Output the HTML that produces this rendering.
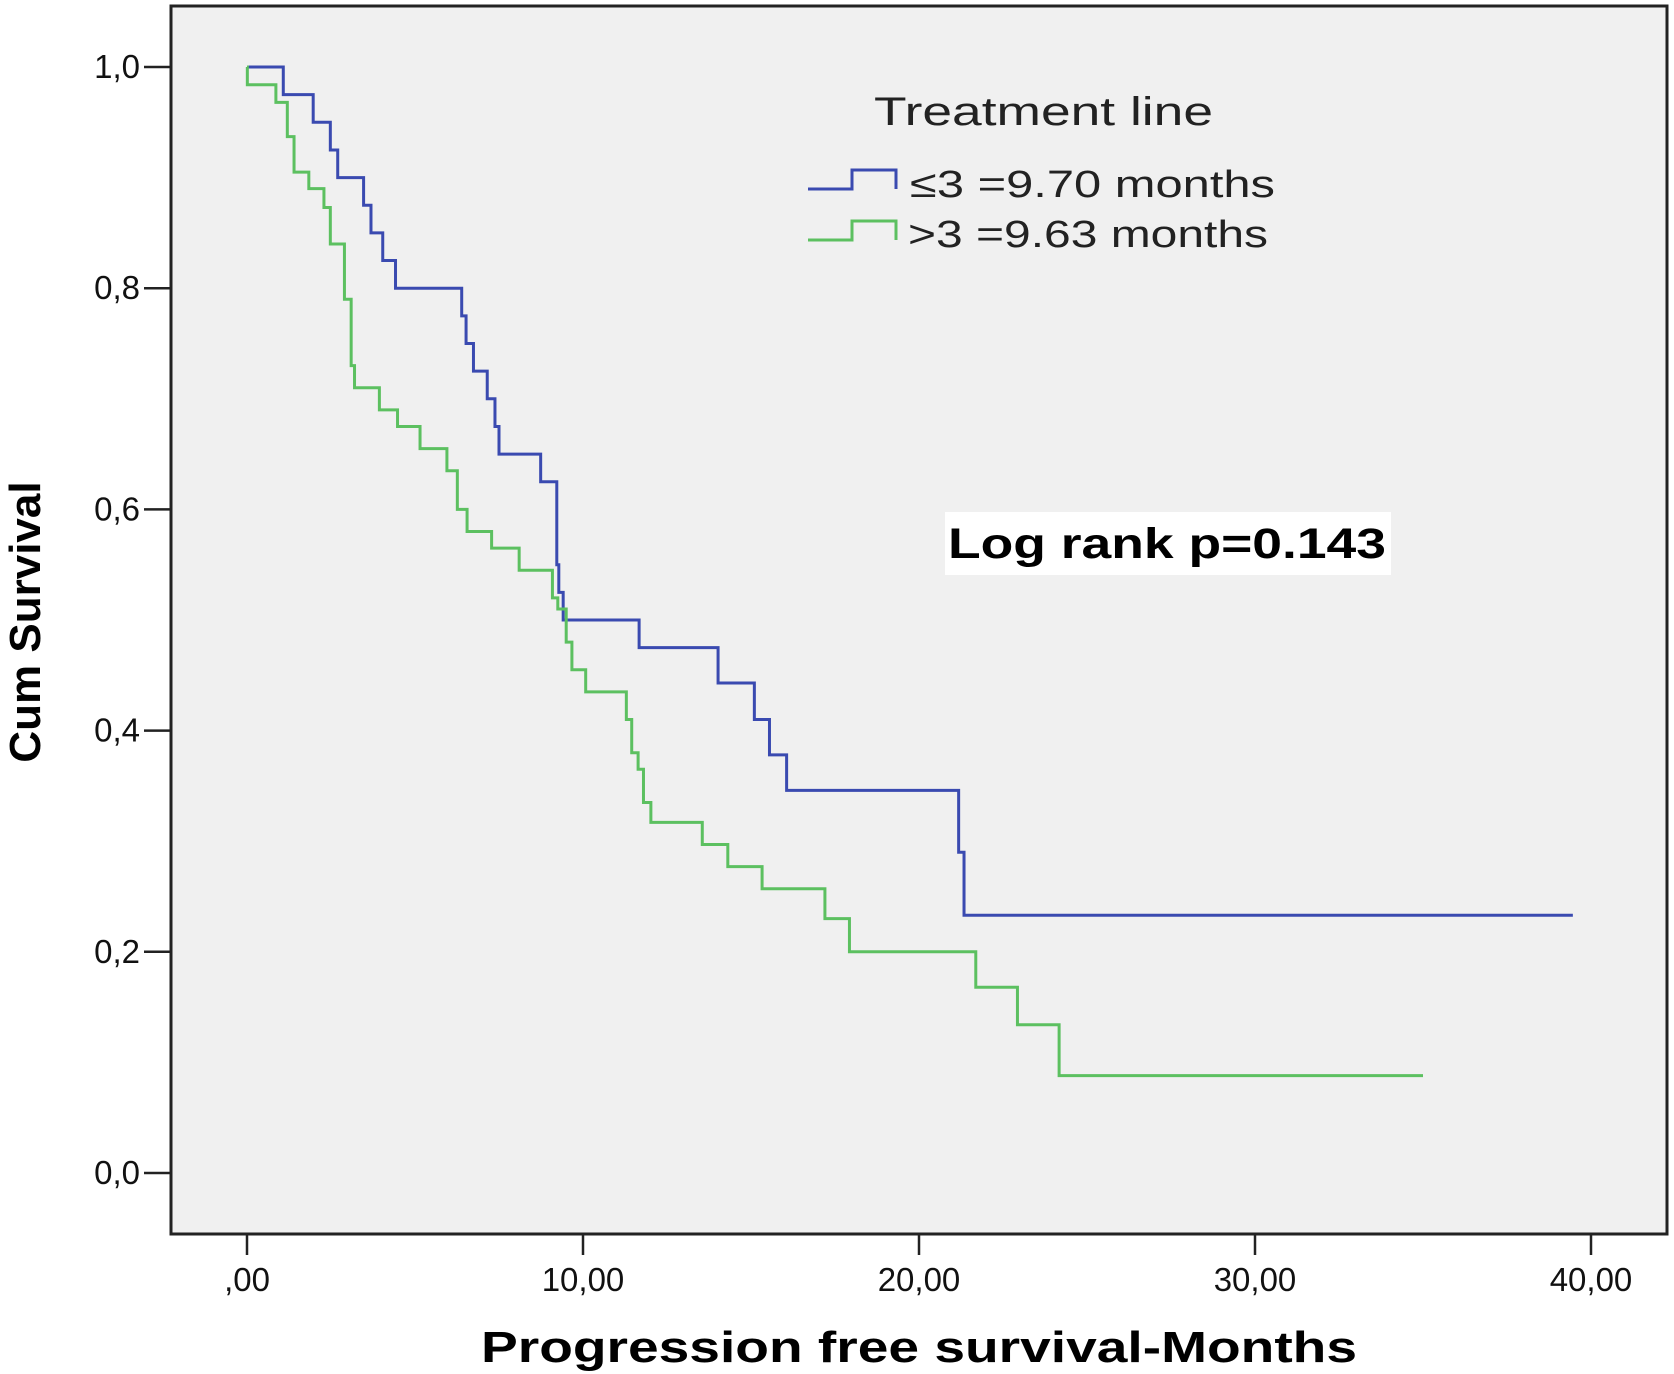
<!DOCTYPE html>
<html><head><meta charset="utf-8"><style>
html,body{margin:0;padding:0;background:#fff}
svg{display:block;font-family:"Liberation Sans",Arial,sans-serif}
</style></head><body>
<svg id="chart" width="1674" height="1374" viewBox="0 0 1674 1374">
<rect x="171" y="6" width="1496" height="1228" fill="#f0f0f0" stroke="#222" stroke-width="3"/>
<g id="axes"></g>
<g id="series"></g>
<text x="874" y="125" font-size="40" fill="#222" textLength="339" lengthAdjust="spacingAndGlyphs">Treatment line</text>
<path d="M808 189 H852 V170 H896 V189" fill="none" stroke="#3a4ab0" stroke-width="3"/>
<text x="910" y="197" font-size="38" fill="#222" textLength="365" lengthAdjust="spacingAndGlyphs">≤3 =9.70 months</text>
<path d="M808 240 H852 V221 H896 V240" fill="none" stroke="#5cc060" stroke-width="3"/>
<text x="908" y="247" font-size="38" fill="#222" textLength="360" lengthAdjust="spacingAndGlyphs">&gt;3 =9.63 months</text>
<rect x="945" y="512" width="446" height="63" fill="#fff"/>
<text x="948" y="558" font-size="43" font-weight="bold" fill="#000" textLength="438" lengthAdjust="spacingAndGlyphs">Log rank p=0.143</text>
<text transform="translate(40,622) rotate(-90)" text-anchor="middle" font-size="44" font-weight="bold" fill="#000">Cum Survival</text>
<text x="919" y="1362" text-anchor="middle" font-size="44" font-weight="bold" fill="#000" textLength="876" lengthAdjust="spacingAndGlyphs">Progression free survival-Months</text>
</svg>
<script>
const xTicks=[0,10,20,30,40];
const xTickLabels=[",00","10,00","20,00","30,00","40,00"];
const yTicks=[0,0.2,0.4,0.6,0.8,1.0];
const yTickLabels=["0,0","0,2","0,4","0,6","0,8","1,0"];
const blueTimes=[0,1.08,1.97,2.48,2.7,3.47,3.69,4.04,4.42,6.39,6.52,6.74,7.15,7.38,7.5,8.74,9.22,9.28,9.41,11.67,14.02,15.1,15.55,16.06,21.18,21.34];
const blueSurv=[1.0,0.975,0.95,0.925,0.9,0.875,0.85,0.825,0.8,0.775,0.75,0.725,0.7,0.675,0.65,0.625,0.55,0.525,0.5,0.475,0.443,0.41,0.378,0.346,0.29,0.233];
const blueEnd=39.46;
const greenTimes=[0,0.01,0.86,1.2,1.4,1.84,2.29,2.48,2.9,3.1,3.2,3.94,4.48,5.15,5.95,6.26,6.55,7.28,8.1,9.09,9.25,9.5,9.67,10.08,11.29,11.45,11.64,11.8,12.02,13.55,14.31,15.33,17.2,17.93,21.69,22.93,24.17];
const greenSurv=[1.0,0.984,0.968,0.937,0.905,0.89,0.873,0.84,0.79,0.73,0.71,0.69,0.675,0.655,0.635,0.6,0.58,0.565,0.545,0.52,0.51,0.48,0.455,0.435,0.41,0.38,0.365,0.335,0.317,0.297,0.277,0.257,0.23,0.2,0.168,0.134,0.088];
const greenEnd=35.0;
const NS="http://www.w3.org/2000/svg";
const xs=t=>247+t*33.6;
const ys=v=>1173-v*1106;
const axes=document.getElementById('axes'),ser=document.getElementById('series');
function mk(tag,attrs,parent){const e=document.createElementNS(NS,tag);for(const k in attrs)e.setAttribute(k,attrs[k]);parent.appendChild(e);return e;}
xTicks.forEach((t,i)=>{
 const l=mk('line',{x1:xs(t),x2:xs(t),y1:1234,y2:1255,stroke:'#222','stroke-width':2.5},axes);
 
 
 const tx=mk('text',{x:xs(t),y:1291,'text-anchor':'middle','font-size':33,fill:'#111'},axes);
 tx.textContent=xTickLabels[i];
 
 
});
yTicks.forEach((v,i)=>{
 const l=mk('line',{x1:144,x2:171,y1:ys(v),y2:ys(v),stroke:'#222','stroke-width':2.5},axes);
 
 
 const tx=mk('text',{x:140,y:ys(v)+11,'text-anchor':'end','font-size':33,fill:'#111'},axes);
 tx.textContent=yTickLabels[i];
 
 
});
function stepPath(T,S,end){let d='M'+xs(T[0])+' '+ys(1);
 for(let i=0;i<T.length;i++){d+=' H'+xs(T[i])+' V'+ys(S[i]);}
 d+=' H'+xs(end);return d;}
const pb=mk('path',{d:stepPath(blueTimes,blueSurv,blueEnd),fill:'none',stroke:'#3a4ab0','stroke-width':3},ser);


const pg=mk('path',{d:stepPath(greenTimes,greenSurv,greenEnd),fill:'none',stroke:'#5cc060','stroke-width':3},ser);


</script>
</body></html>
